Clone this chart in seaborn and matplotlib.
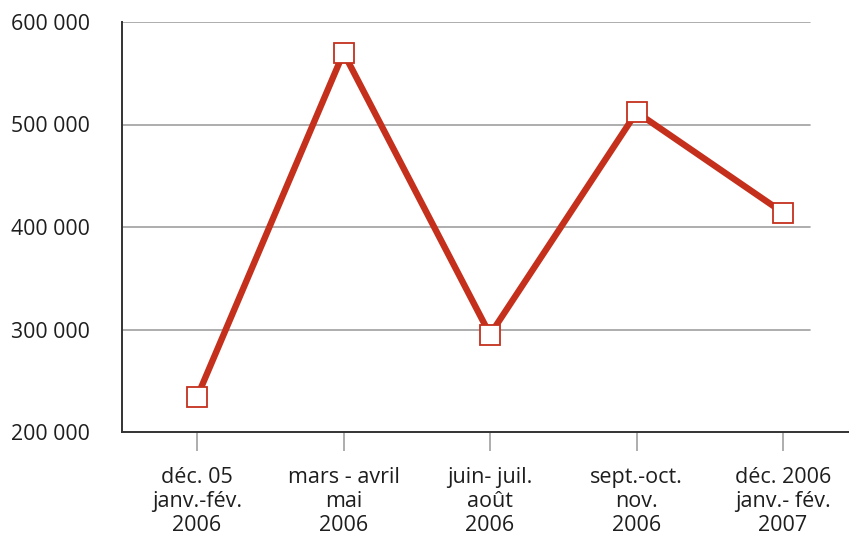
import numpy as np
import pandas as pd
import matplotlib
matplotlib.use("Agg")
import matplotlib.pyplot as plt
import seaborn as sns

periods = ["déc. 05\njanv.-fév.\n2006", "mars - avril\nmai\n2006", "juin- juil.\naoût\n2006",
           "sept.-oct.\nnov.\n2006", "déc. 2006\njanv.- fév.\n2007"]
values = [234000, 570000, 295000, 512000, 414000]
yticks = [200000, 300000, 400000, 500000, 600000]
ytick_labels = ["200 000", "300 000", "400 000", "500 000", "600 000"]

sns.set_style("white")
plt.rcParams['font.family'] = ['Open Sans', 'DejaVu Sans']

df = pd.DataFrame({"pos": np.arange(len(periods)), "val": values})

fig = plt.figure(figsize=(8.49, 5.46), dpi=100)
ax = fig.add_axes([122 / 849, 1 - 432 / 546, 1 - 122 / 849, (432 - 22) / 546])

grid_end = (810 - 122) / (849 - 122)
for y in yticks[1:]:
    ax.axhline(y, xmin=0, xmax=grid_end, color="#a0a0a0", lw=1.2, zorder=1)

sns.lineplot(data=df, x="pos", y="val", ax=ax, color="#c4301c", lw=4.6,
             marker="s", markersize=14, markerfacecolor="white",
             markeredgecolor="#c4301c", markeredgewidth=1.3, zorder=3)

ax.set_xlim(-0.512, 4.45)
ax.set_ylim(200000, 600000)
ax.set_xticks(df["pos"])
ax.set_xticklabels(periods, fontsize=15.5, color="#1e1e1e", linespacing=1.2)
ax.set_yticks(yticks)
ax.set_yticklabels(ytick_labels, fontsize=15.3, color="#1e1e1e")
ax.set_xlabel("")
ax.set_ylabel("")

# tick marks below the axis are grey and sit a little under the spine
ax.tick_params(axis="x", bottom=True, length=14, width=1.2, color="#a0a0a0",
               direction="out", pad=11)
ax.tick_params(axis="y", left=False, length=0, pad=23)

for s in ["top", "right"]:
    ax.spines[s].set_visible(False)
for s in ["left", "bottom"]:
    ax.spines[s].set_color("#333333")
    ax.spines[s].set_linewidth(1.4)

fig.savefig("out.png", dpi=100)
